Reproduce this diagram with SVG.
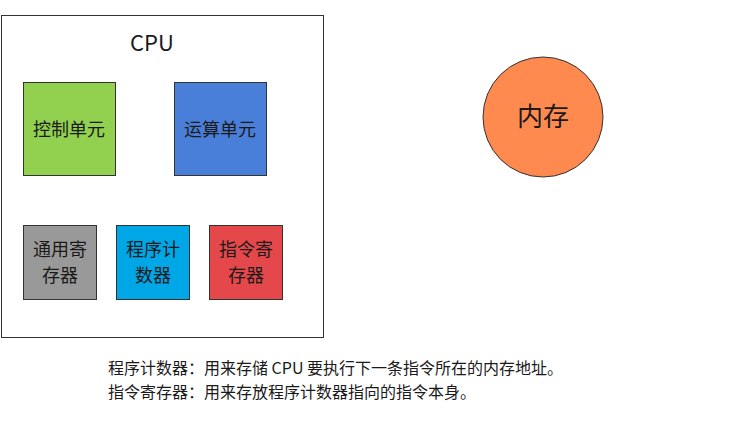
<svg xmlns="http://www.w3.org/2000/svg" width="730" height="441" viewBox="0 0 730 441">
<style>
text{font-family:"Microsoft YaHei","Noto Sans CJK SC",sans-serif;fill:#1a1a1a;text-anchor:middle}
.b{stroke:#333;stroke-width:1}
.s{font-size:18px}
</style>
<rect width="730" height="441" fill="#fff"/>
<g id="cpu"><rect x="1.5" y="15.5" width="322" height="322" fill="#fff" class="b"/><text x="152" y="51" font-size="22">CPU</text></g>
<g id="ctrl"><rect x="23.5" y="82.5" width="92" height="93" fill="#92D050" class="b"/><text x="69" y="136" class="s">控制单元</text></g>
<g id="alu"><rect x="174.5" y="82.5" width="92" height="93" fill="#4A7FD9" class="b"/><text x="220" y="136" class="s">运算单元</text></g>
<g id="gpr"><rect x="23.5" y="225.5" width="73" height="74" fill="#999999" class="b"/><text x="60" y="256" class="s">通用寄</text><text x="60" y="282" class="s">存器</text></g>
<g id="pc"><rect x="116.5" y="225.5" width="73" height="74" fill="#00A7E6" class="b"/><text x="153" y="256" class="s">程序计</text><text x="153" y="282" class="s">数器</text></g>
<g id="ir"><rect x="209.5" y="225.5" width="73" height="74" fill="#E5484B" class="b"/><text x="246" y="256" class="s">指令寄</text><text x="246" y="282" class="s">存器</text></g>
<g id="mem"><circle cx="543" cy="117" r="60" fill="#FF8A50" class="b"/><text x="543" y="126" font-size="26">内存</text></g>
<g id="connectors"></g>
<text x="108" y="374" font-size="16" style="text-anchor:start">程序计数器：用来存储 CPU 要执行下一条指令所在的内存地址。</text>
<text x="108" y="398" font-size="16" style="text-anchor:start">指令寄存器：用来存放程序计数器指向的指令本身。</text>
</svg>
